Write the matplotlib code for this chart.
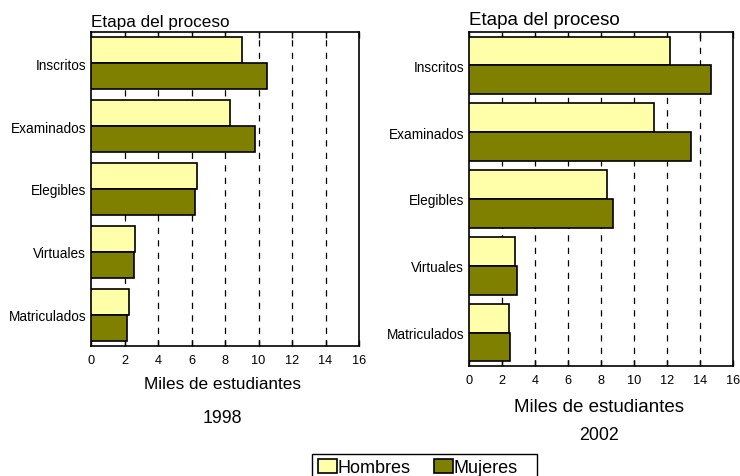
import matplotlib
matplotlib.use("Agg")
import matplotlib.pyplot as plt
from matplotlib.patches import Rectangle
import numpy as np

plt.rcParams['font.family'] = ['Liberation Sans', 'DejaVu Sans']

etapas = ["Inscritos", "Examinados", "Elegibles", "Virtuales", "Matriculados"]
hombres_1998 = [9.0, 8.3, 6.3, 2.65, 2.25]
mujeres_1998 = [10.5, 9.8, 6.2, 2.55, 2.15]
hombres_2002 = [12.2, 11.2, 8.35, 2.8, 2.4]
mujeres_2002 = [14.65, 13.45, 8.75, 2.9, 2.5]
xticks = [0, 2, 4, 6, 8, 10, 12, 14, 16]

c_h = "#FFFFAA"
c_m = "#808000"

fig = plt.figure(figsize=(7.4, 4.77), dpi=100)
W, H = 740, 477


def panel(rect, hom, muj, year, bw, title_y, xlab_y, year_y, big):
    l, t, r, b = rect
    ax = fig.add_axes([l / W, 1 - b / H, (r - l) / W, (b - t) / H])
    y = np.arange(len(etapas))
    ax.barh(y - bw / 2, hom, height=bw, color=c_h, edgecolor="black", linewidth=1.2, zorder=3, label="Hombres")
    ax.barh(y + bw / 2, muj, height=bw, color=c_m, edgecolor="black", linewidth=1.2, zorder=3, label="Mujeres")
    ax.set_ylim(len(etapas) - 0.5, -0.5)
    ax.set_xlim(0, 16)
    ax.set_yticks(y)
    ax.set_yticklabels(etapas, fontsize=9.8)
    ax.set_xticks(xticks)
    ax.set_xticklabels([str(v) for v in xticks], fontsize=9.2)
    ax.tick_params(axis="y", length=0, pad=3.5)
    ax.tick_params(axis="x", length=4, direction="in", top=True, pad=5.5, width=1)
    for v in xticks[1:-1]:
        ax.axvline(v, color="black", linestyle=(0, (5, 5)), linewidth=0.9, zorder=1)
    for s in ax.spines.values():
        s.set_linewidth(1.2)
    fs = 13.5 if big else 12.3
    fig.text(l / W, 1 - title_y / H, "Etapa del proceso", fontsize=fs, ha="left", va="baseline")
    fig.text((l + r) / 2 / W - 0.003, 1 - xlab_y / H, "Miles de estudiantes", fontsize=fs, ha="center", va="baseline")
    fig.text((l + r) / 2 / W - 0.003, 1 - year_y / H, year, fontsize=12.8, ha="center", va="baseline")
    return ax


ax1 = panel((91, 33, 359, 347), hombres_1998, mujeres_1998, "1998", 0.415, 27, 389, 423, False)
ax2 = panel((469, 33, 733, 367), hombres_2002, mujeres_2002, "2002", 0.43, 25, 412, 440, True)

# legend box is wider than its content, so draw the frame separately
fig.patches.append(Rectangle((312 / W, -0.05), (537 - 312) / W, 0.05 + 1 - 455 / H, transform=fig.transFigure,
                             facecolor="white", edgecolor="black", linewidth=1.0, zorder=0))
leg = fig.legend(*ax1.get_legend_handles_labels(), loc="upper left", bbox_to_anchor=(315 / W, 1 - 457 / H),
                 ncol=2, frameon=False, fontsize=13, handlelength=1.05, handleheight=0.8,
                 handletextpad=0.05, columnspacing=1.3, borderpad=0.15, borderaxespad=0)

fig.savefig("out.png", dpi=100)
